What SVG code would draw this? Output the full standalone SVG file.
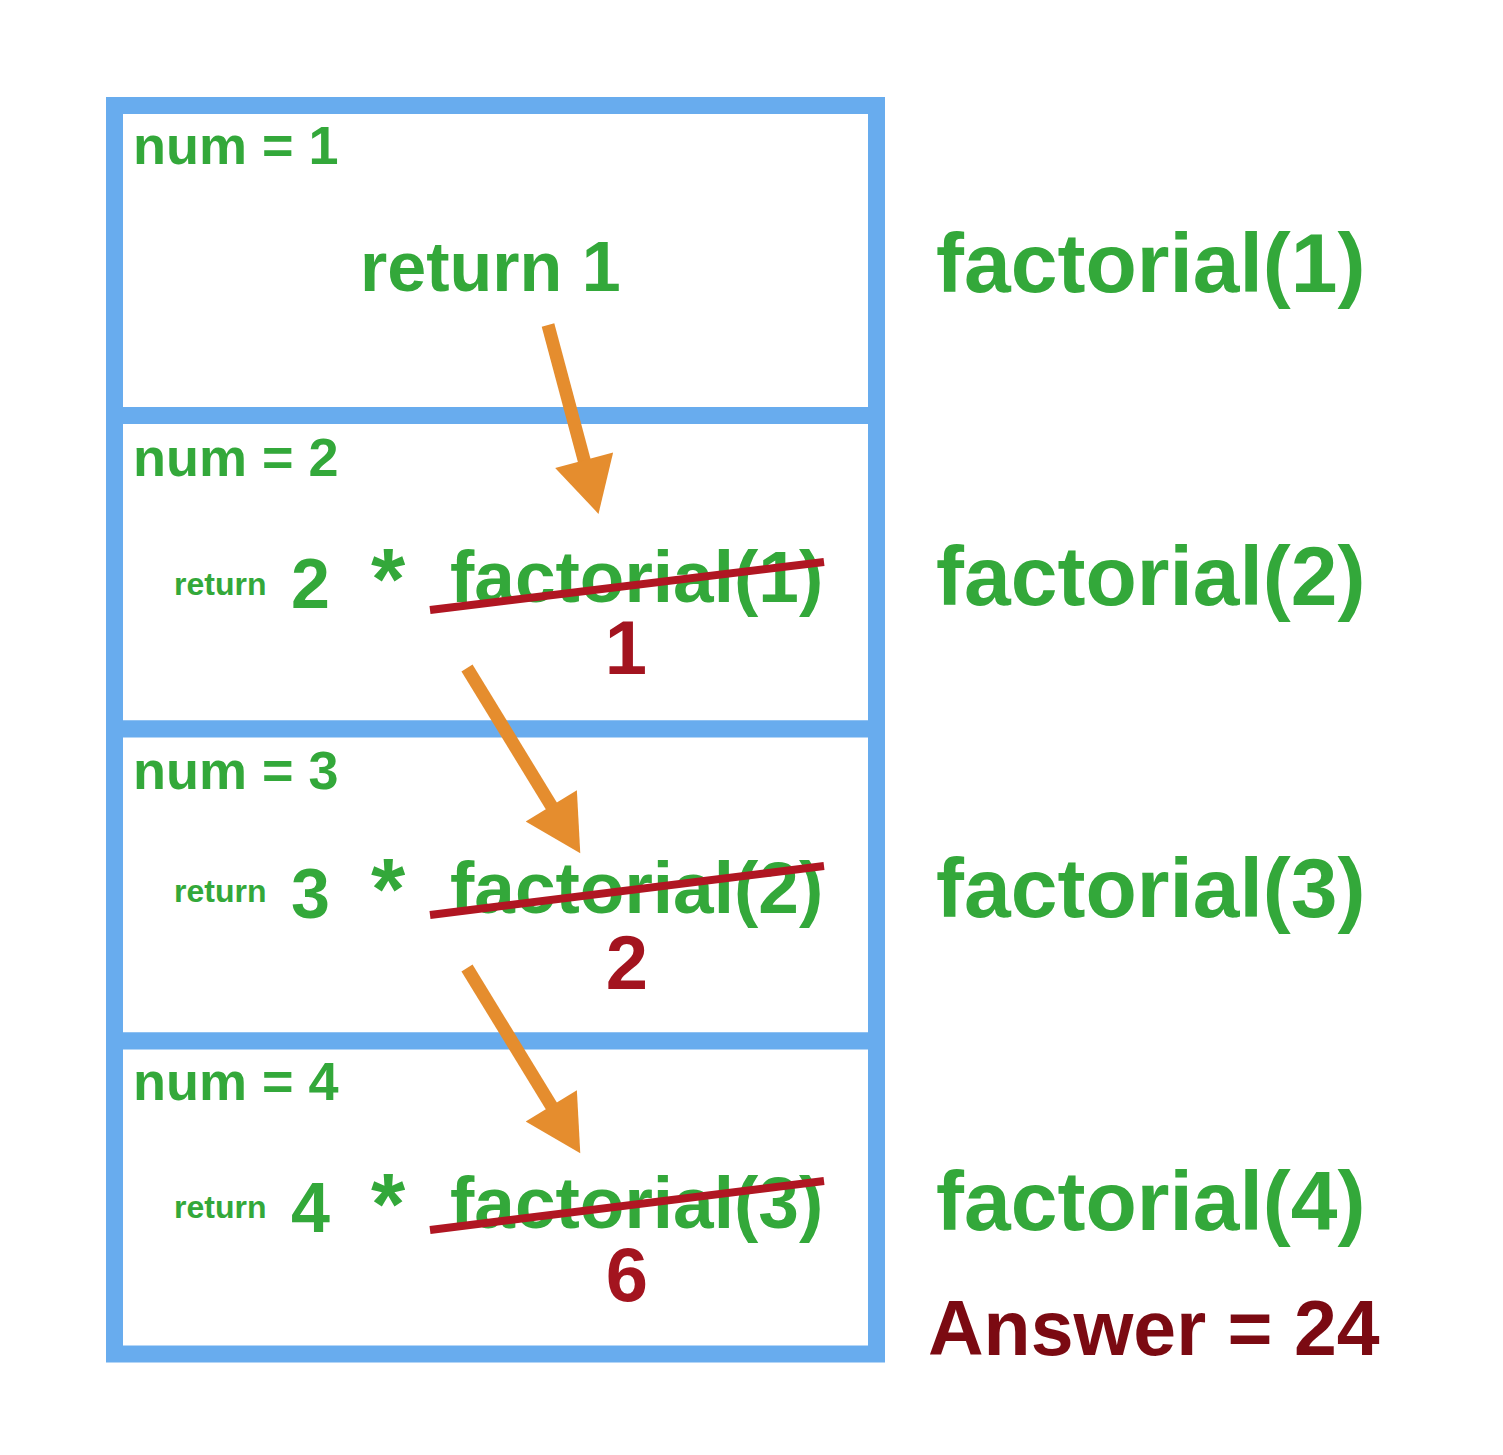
<svg xmlns="http://www.w3.org/2000/svg" width="1503" height="1455" viewBox="0 0 1503 1455">
<defs>
<style>
.frame{fill:#ffffff;stroke:#68acee;stroke-width:17}
.g{fill:#33a83a;font-family:"Liberation Sans",Arial,sans-serif;font-weight:bold}
.r{fill:#a3141f;font-family:"Liberation Sans",Arial,sans-serif;font-weight:bold}
.ans{fill:#7b0a12;font-family:"Liberation Sans",Arial,sans-serif;font-weight:bold}
.strike{stroke:#b01622;stroke-width:8;stroke-linecap:butt}
.arrow{stroke:#e58d2e;stroke-width:13;fill:none;marker-end:url(#ah)}
</style>
<marker id="ah" markerUnits="userSpaceOnUse" markerWidth="60" markerHeight="60" refX="4" refY="27" orient="auto" viewBox="0 0 50 54">
<path d="M0,0 L50,27 L0,54 z" fill="#e58d2e"/>
</marker>
</defs>
<rect width="1503" height="1455" fill="#ffffff"/>

<g id="frame1">
<rect class="frame" x="114.5" y="105.5" width="762" height="310"/>
<text class="g" x="133" y="164" font-size="54">num = 1</text>
<text class="g" x="360" y="291" font-size="70">return 1</text>
</g>

<g id="frame2">
<rect class="frame" x="114.5" y="415.5" width="762" height="313.5"/>
<text class="g" x="133" y="476" font-size="54">num = 2</text>
<text class="g" x="174" y="595" font-size="32">return</text>
<text class="g" x="291" y="608" font-size="70">2</text>
<text class="g" x="371" y="609" font-size="88">*</text>
<text class="g" x="450" y="602" font-size="73">factorial(1)</text>
<line class="strike" x1="430" y1="610" x2="824" y2="562"/>
<text class="r" x="626" y="674" font-size="76" text-anchor="middle">1</text>
</g>

<g id="frame3">
<rect class="frame" x="114.5" y="729" width="762" height="312"/>
<text class="g" x="133" y="789" font-size="54">num = 3</text>
<text class="g" x="174" y="902" font-size="32">return</text>
<text class="g" x="291" y="918" font-size="70">3</text>
<text class="g" x="371" y="919" font-size="88">*</text>
<text class="g" x="450" y="913" font-size="73">factorial(2)</text>
<line class="strike" x1="430" y1="915" x2="824" y2="866"/>
<text class="r" x="627" y="989" font-size="76" text-anchor="middle">2</text>
</g>

<g id="frame4">
<rect class="frame" x="114.5" y="1041" width="762" height="313"/>
<text class="g" x="133" y="1100" font-size="54">num = 4</text>
<text class="g" x="174" y="1218" font-size="32">return</text>
<text class="g" x="291" y="1232" font-size="70">4</text>
<text class="g" x="371" y="1234" font-size="88">*</text>
<text class="g" x="450" y="1228" font-size="73">factorial(3)</text>
<line class="strike" x1="430" y1="1230" x2="824" y2="1181"/>
<text class="r" x="627" y="1301" font-size="76" text-anchor="middle">6</text>
</g>

<g id="labels">
<text class="g" x="936" y="292" font-size="84">factorial(1)</text>
<text class="g" x="936" y="605" font-size="84">factorial(2)</text>
<text class="g" x="936" y="917" font-size="84">factorial(3)</text>
<text class="g" x="936" y="1230" font-size="84">factorial(4)</text>
<text class="ans" x="928" y="1355" font-size="77">Answer = 24</text>
</g>

<g id="connectors">
<line class="arrow" x1="548" y1="325" x2="585.3" y2="464.5"/>
<line class="arrow" x1="467" y1="668" x2="553.6" y2="809.6"/>
<line class="arrow" x1="467" y1="968" x2="553.6" y2="1109.6"/>
</g>
</svg>
